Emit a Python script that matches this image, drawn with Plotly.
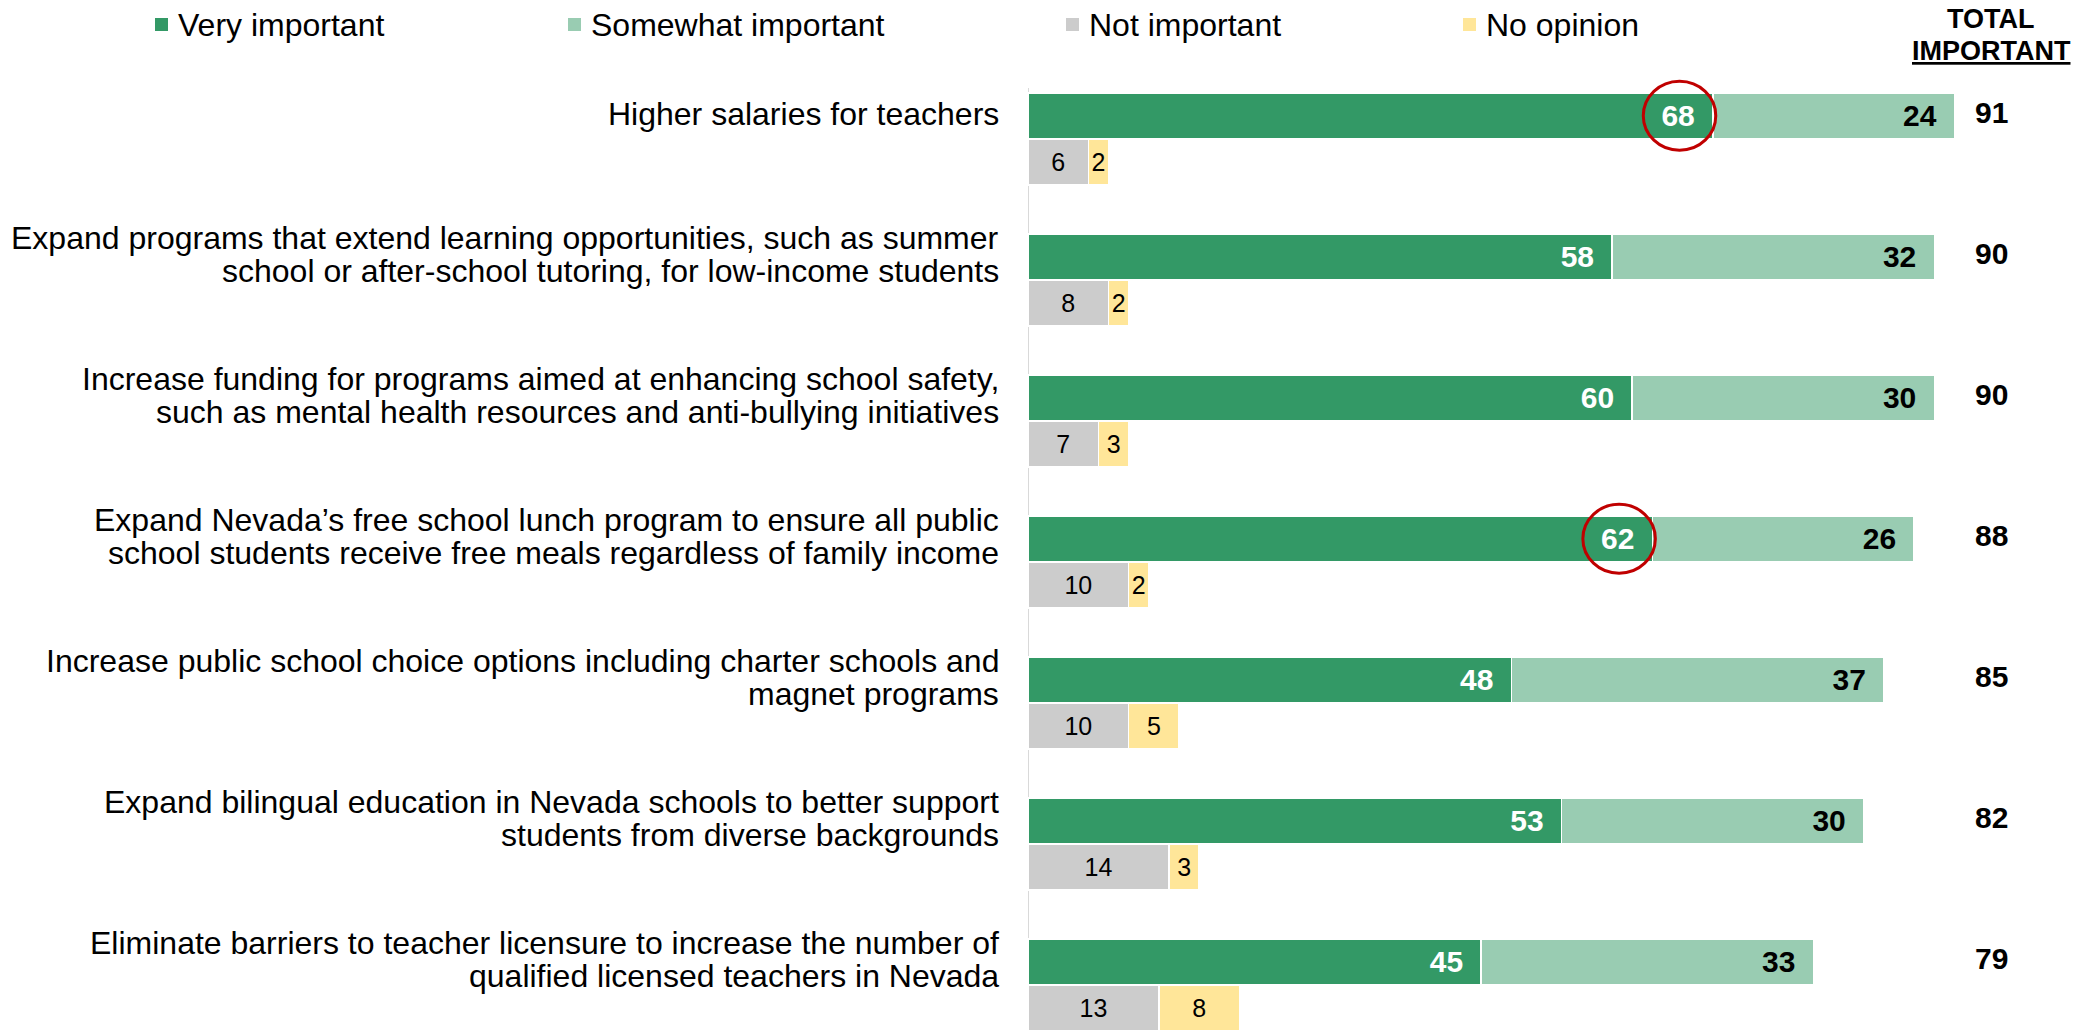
import plotly.graph_objects as go

categories = [
    "Higher salaries for teachers",
    "Expand programs that extend learning opportunities, such as summer<br>school or after-school tutoring, for low-income students",
    "Increase funding for programs aimed at enhancing school safety,<br>such as mental health resources and anti-bullying initiatives",
    "Expand Nevada’s free school lunch program to ensure all public<br>school students receive free meals regardless of family income",
    "Increase public school choice options including charter schools and<br>magnet programs",
    "Expand bilingual education in Nevada schools to better support<br>students from diverse backgrounds",
    "Eliminate barriers to teacher licensure to increase the number of<br>qualified licensed teachers in Nevada",
]
very_important = [68, 58, 60, 62, 48, 53, 45]
somewhat_important = [24, 32, 30, 26, 37, 30, 33]
not_important = [6, 8, 7, 10, 10, 14, 13]
no_opinion = [2, 2, 3, 2, 5, 3, 8]
total_important = [91, 90, 90, 88, 85, 82, 79]
circled = [0, 3]

series_names = ["Very important", "Somewhat important", "Not important", "No opinion"]
colors = ["#339966", "#99CCB2", "#CCCCCC", "#FFE699"]

FONT = "Arial, Liberation Sans, sans-serif"
W, H = 2091, 1030
L = 1028
OFF = 0.165
BW = 0.325

idx = list(range(len(categories)))
y_top = [i - OFF for i in idx]
y_bot = [i + OFF for i in idx]

fig = go.Figure()
pad = "\u2002"
fig.add_trace(go.Bar(y=y_top, x=very_important, orientation="h", width=BW, name=series_names[0],
                     marker=dict(color=colors[0], line=dict(color="white", width=1.5)),
                     texttemplate="<b>%{x}</b>" + pad, textposition="inside", insidetextanchor="end",
                     constraintext="none",
                     textfont=dict(color="white", size=30, family=FONT), showlegend=False))
fig.add_trace(go.Bar(y=y_top, x=somewhat_important, orientation="h", width=BW, name=series_names[1],
                     marker=dict(color=colors[1], line=dict(color="white", width=1.5)),
                     texttemplate="<b>%{x}</b>" + pad, textposition="inside", insidetextanchor="end",
                     constraintext="none",
                     textfont=dict(color="black", size=30, family=FONT), showlegend=False))
fig.add_trace(go.Bar(y=y_bot, x=not_important, orientation="h", width=BW, name=series_names[2],
                     marker=dict(color=colors[2], line=dict(color="white", width=1.5)),
                     texttemplate="%{x}", textposition="inside", insidetextanchor="middle",
                     constraintext="none",
                     textfont=dict(color="black", size=25, family=FONT), showlegend=False))
fig.add_trace(go.Bar(y=y_bot, x=no_opinion, orientation="h", width=BW, name=series_names[3],
                     marker=dict(color=colors[3], line=dict(color="white", width=1.5)),
                     texttemplate="%{x}", textposition="inside", insidetextanchor="middle",
                     constraintext="none",
                     textfont=dict(color="black", size=25, family=FONT), showlegend=False))

annotations = []
shapes = []

# category labels (one annotation per line for tight line spacing)
for i, cat in enumerate(categories):
    lines = cat.split("<br>")
    n = len(lines)
    for k, line in enumerate(lines):
        shift = -2 + (k - (n - 1) / 2) * 33
        annotations.append(dict(x=0, y=y_top[i], xref="x", yref="y", text=line, showarrow=False,
                                xanchor="right", yanchor="middle", xshift=-27, yshift=-shift,
                                font=dict(size=32, color="black", family=FONT)))

# totals
for i, t in enumerate(total_important):
    annotations.append(dict(x=(1991 - L) / (W - L), y=y_top[i], xref="paper", yref="y",
                            text=f"<b>{t}</b>", showarrow=False, xanchor="center", yanchor="middle",
                            yshift=3,
                            font=dict(size=30, color="black", family=FONT)))

annotations.append(dict(x=(1991 - L) / (W - L), y=1 - 19 / H, xref="paper", yref="paper",
                        text="<b>TOTAL</b>", showarrow=False,
                        xanchor="center", yanchor="middle", align="center",
                        font=dict(size=27, color="black", family=FONT)))
annotations.append(dict(x=(1991 - L) / (W - L), y=1 - 51 / H, xref="paper", yref="paper",
                        text="<b><u>IMPORTANT</u></b>", showarrow=False,
                        xanchor="center", yanchor="middle", align="center",
                        font=dict(size=27, color="black", family=FONT)))

# legend
legend_text_x = [176, 589, 1087, 1484]
for name, col, tx in zip(series_names, colors, legend_text_x):
    annotations.append(dict(x=(tx - L) / (W - L), y=1 - 25 / H, xref="paper", yref="paper",
                            text=name, showarrow=False, xanchor="left", yanchor="middle",
                            font=dict(size=32, color="black", family=FONT)))
    sx = tx - 21
    shapes.append(dict(type="rect", xref="paper", yref="paper",
                       x0=(sx - L) / (W - L), x1=(sx + 13 - L) / (W - L),
                       y0=1 - 31 / H, y1=1 - 18 / H, fillcolor=col, line=dict(width=0)))

# axis line
shapes.append(dict(type="line", xref="x", yref="paper", x0=0, x1=0, y0=0, y1=1 - 88 / H,
                   line=dict(color="#D9D9D9", width=2), layer="below"))

# red circles around highlighted values
for i in circled:
    cx = very_important[i] - 3.3
    shapes.append(dict(type="circle", xref="x", yref="y", x0=cx - 3.6, x1=cx + 3.6,
                       y0=y_top[i] - 0.245, y1=y_top[i] + 0.245,
                       line=dict(color="#C00000", width=3)))

px_per_unit = 10.07
y0_px = 139
px_per_row = 141

fig.update_layout(
    width=W, height=H,
    margin=dict(l=L, r=0, t=0, b=0),
    barmode="stack",
    plot_bgcolor="white", paper_bgcolor="white",
    xaxis=dict(range=[0, (W - L) / px_per_unit], visible=False),
    yaxis=dict(range=[(H - y0_px) / px_per_row, -y0_px / px_per_row], visible=False),
    annotations=annotations,
    shapes=shapes,
    font=dict(family=FONT),
)

fig.write_html("out.html", config={"displayModeBar": False},
               post_script="document.body.style.margin='0';document.body.style.overflow='hidden';")
